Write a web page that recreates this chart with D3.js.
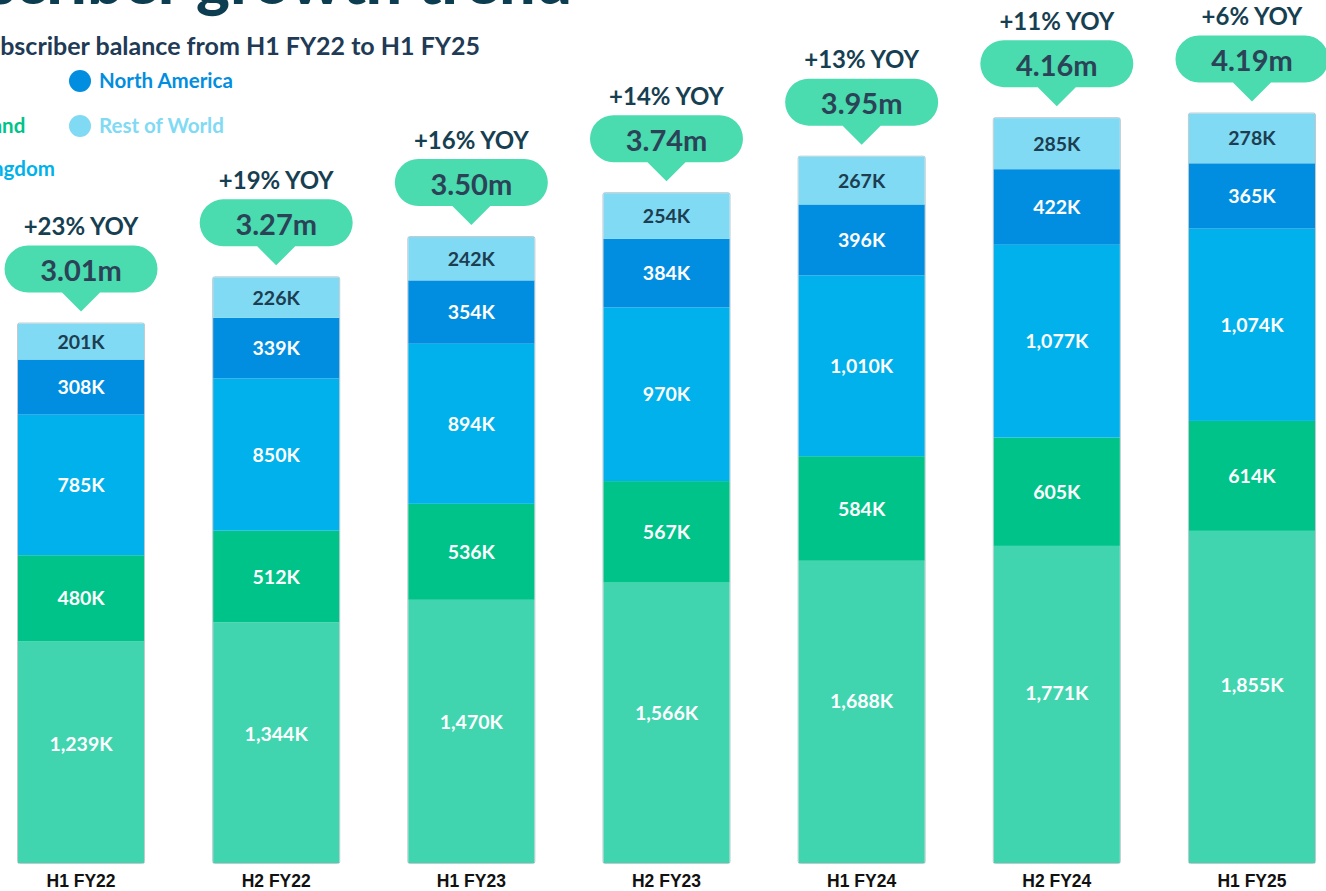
<!DOCTYPE html>
<html>
<head>
<meta charset="utf-8">
<script src="https://cdn.jsdelivr.net/npm/d3@7"></script>
<style>
  body { margin: 0; background: #fff; }
  svg { display: block; font-family: Lato, "Noto Sans", sans-serif; }
</style>
</head>
<body>
<svg width="1326" height="891"></svg>
<script>
var periods = ["H1 FY22", "H2 FY22", "H1 FY23", "H2 FY23", "H1 FY24", "H2 FY24", "H1 FY25"];
var regions = ["Australia", "New Zealand", "United Kingdom", "North America", "Rest of World"];
var australia    = [1239, 1344, 1470, 1566, 1688, 1771, 1855];
var newZealand   = [480, 512, 536, 567, 584, 605, 614];
var unitedKingdom = [785, 850, 894, 970, 1010, 1077, 1074];
var northAmerica = [308, 339, 354, 384, 396, 422, 365];
var restOfWorld  = [201, 226, 242, 254, 267, 285, 278];
var totals = ["3.01m", "3.27m", "3.50m", "3.74m", "3.95m", "4.16m", "4.19m"];
var yoy = ["+23% YOY", "+19% YOY", "+16% YOY", "+14% YOY", "+13% YOY", "+11% YOY", "+6% YOY"];

var colors = ["#41d5af", "#00c389", "#00b1eb", "#028ee0", "#80daf4"];
var series = [australia, newZealand, unitedKingdom, northAmerica, restOfWorld];

var svg = d3.select("svg");

var data = periods.map(function(p, i) {
  var row = {period: p};
  regions.forEach(function(r, j) { row[r] = series[j][i]; });
  return row;
});

var stack = d3.stack().keys(regions)(data);

var x = d3.scaleBand().domain(periods).range([18, 1315]).paddingInner(0.354).paddingOuter(0);
var y = d3.scaleLinear().domain([0, 4200]).range([863, 111]);

// title + subtitle (cropped at left edge like the source)
svg.append("text")
    .attr("x", 572).attr("y", 4)
    .attr("text-anchor", "end")
    .attr("font-size", 64).attr("font-weight", 900)
    .attr("fill", "#0c3d51")
    .text("Subscriber growth trend");

svg.append("text")
    .attr("x", 480).attr("y", 55)
    .attr("text-anchor", "end")
    .attr("font-size", 25).attr("font-weight", 700)
    .attr("fill", "#213a55")
    .text("Subscriber balance from H1 FY22 to H1 FY25");

// legend, two columns of which the first falls off the left edge
var legendPos = [[-113, 81], [-113, 126], [-113, 169], [80, 81], [80, 126]];
var legend = svg.append("g").selectAll("g")
    .data(regions)
    .join("g")
    .attr("transform", function(d, i) { return "translate(" + legendPos[i][0] + "," + legendPos[i][1] + ")"; });
legend.append("circle").attr("r", 11).attr("fill", function(d, i) { return colors[i]; });
legend.append("text")
    .attr("x", 19).attr("dy", "0.36em")
    .attr("font-size", 20.5).attr("font-weight", 700)
    .attr("fill", function(d, i) { return colors[i]; })
    .text(function(d) { return d; });

// bar outlines
var bars = svg.append("g");
bars.selectAll("rect.outline")
    .data(data)
    .join("rect")
    .attr("class", "outline")
    .attr("x", function(d) { return x(d.period) - 0.5; })
    .attr("width", x.bandwidth() + 1)
    .attr("y", function(d, i) { return y(stack[4][i][1]) - 0.5; })
    .attr("height", function(d, i) { return y(0) - y(stack[4][i][1]) + 1; })
    .attr("rx", 2)
    .attr("fill", "none")
    .attr("stroke", "#c4c8cc");

var layers = bars.selectAll("g.layer")
    .data(stack)
    .join("g")
    .attr("class", "layer")
    .attr("fill", function(d, i) { return colors[i]; });

layers.selectAll("rect")
    .data(function(d) { return d; })
    .join("rect")
    .attr("x", function(d) { return x(d.data.period); })
    .attr("width", x.bandwidth())
    .attr("y", function(d) { return y(d[1]); })
    .attr("height", function(d) { return y(d[0]) - y(d[1]); });

layers.selectAll("text")
    .data(function(d) { return d.map(function(v) { return {v: v, key: d.key}; }); })
    .join("text")
    .attr("x", function(d) { return x(d.v.data.period) + x.bandwidth() / 2; })
    .attr("y", function(d) {
      var mid = (y(d.v[0]) + y(d.v[1])) / 2;
      // the bottom labels sit a little above the middle in the source
      if (d.key === "Australia") mid -= 0.035 * (y(d.v[0]) - y(d.v[1]));
      return mid;
    })
    .attr("dy", "0.36em")
    .attr("text-anchor", "middle")
    .attr("font-size", 19.5).attr("font-weight", 700)
    .attr("fill", function(d) { return d.key === "Rest of World" ? "#1d3d50" : "#ffffff"; })
    .text(function(d) { return d3.format(",")(d.v.data[d.key]) + "K"; });

// category labels
svg.append("g").selectAll("text")
    .data(periods)
    .join("text")
    .attr("x", function(d) { return x(d) + x.bandwidth() / 2; })
    .attr("y", 887)
    .attr("text-anchor", "middle")
    .attr("font-family", "'Liberation Sans', Arial, sans-serif")
    .attr("font-size", 17.5).attr("font-weight", 700)
    .attr("fill", "#111")
    .text(function(d) { return d; });

// bubbles with totals and YOY growth
var bw = 153, bh = 47, tipH = 19, tipW = 19;
function bubblePath(cx, tipY) {
  var bottom = tipY - tipH, top = bottom - bh, r = bh / 2;
  var l = cx - bw / 2, rr = cx + bw / 2;
  return "M" + (l + r) + "," + top +
    "H" + (rr - r) +
    "A" + r + "," + r + " 0 0 1 " + (rr - r) + "," + bottom +
    "H" + (cx + tipW) +
    "L" + cx + "," + tipY +
    "L" + (cx - tipW) + "," + bottom +
    "H" + (l + r) +
    "A" + r + "," + r + " 0 0 1 " + (l + r) + "," + top + "Z";
}

var bubbles = svg.append("g").selectAll("g")
    .data(data)
    .join("g")
    .attr("transform", function(d, i) {
      return "translate(" + (x(d.period) + x.bandwidth() / 2) + "," + y(stack[4][i][1]) + ")";
    });

bubbles.append("path")
    .attr("d", bubblePath(0, -12))
    .attr("fill", "#4adbae");

bubbles.append("text")
    .attr("y", -53)
    .attr("dy", "0.36em")
    .attr("text-anchor", "middle")
    .attr("font-size", 29).attr("font-weight", 700)
    .attr("fill", "#2b4257")
    .text(function(d, i) { return totals[i]; });

bubbles.append("text")
    .attr("y", -97)
    .attr("dy", "0.36em")
    .attr("text-anchor", "middle")
    .attr("font-size", 24).attr("font-weight", 700)
    .attr("fill", "#173f52")
    .text(function(d, i) { return yoy[i]; });
</script>
</body>
</html>
